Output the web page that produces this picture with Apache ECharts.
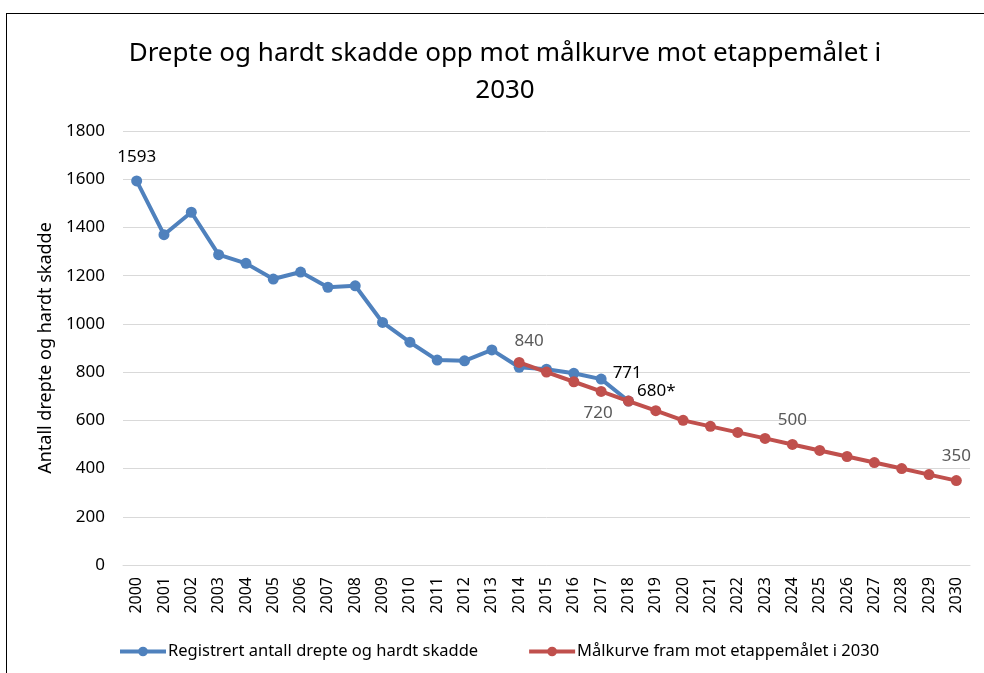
<!DOCTYPE html>
<html>
<head>
<meta charset="utf-8">
<script src="https://cdn.jsdelivr.net/npm/echarts@6/dist/echarts.min.js"></script>
<style>
  html, body { margin: 0; padding: 0; background: #fff; }
  #chart { width: 984px; height: 673px; position: relative; }
  #frame { position: absolute; left: 6px; top: 13px; width: 1000px; height: 700px;
           border-left: 1px solid #000; border-top: 1px solid #000; pointer-events: none; }
</style>
</head>
<body>
<div id="chart"></div>
<div id="frame"></div>
<script>
'use strict';
// aarstall langs x-aksen
var years = [];
for (var y = 2000; y <= 2030; y++) { years.push(String(y)); }

// registrerte tall 2000-2018
var registrert = [1593, 1370, 1463, 1287, 1251, 1186, 1215, 1152, 1158, 1006, 924, 850, 847, 892,
                  820, 812, 795, 771, 680];
// maalkurve 2014-2030
var maalkurve = [840, 800, 760, 720, 680, 640, 600, 575, 550, 525, 500, 475, 450, 425, 400, 375, 350];
var maalStart = 2014;

// etiketter som vises i figuren
var blueLabels = { 2000: '1593', 2017: '771', 2018: '680*' };
var redLabels = { 2014: '840', 2017: '720', 2024: '500', 2030: '350' };

var blueData = years.map(function (yr, i) {
    var v = i < registrert.length ? registrert[i] : null;
    var item = { value: v };
    if (blueLabels[yr]) {
        item.label = { show: true, formatter: blueLabels[yr], color: '#000',
                       position: yr === '2000' ? 'top' : 'right', distance: yr === '2000' ? 10 : 6 };
        if (yr === '2018') { item.label.offset = [-3, -10]; }
        if (yr === '2017') { item.label.offset = [0, -6]; }
    }
    return item;
});
var redData = years.map(function (yr) {
    var idx = Number(yr) - maalStart;
    var v = idx >= 0 ? maalkurve[idx] : null;
    var item = { value: v };
    if (redLabels[yr]) {
        item.label = { show: true, formatter: redLabels[yr], color: '#595959',
                       position: yr === '2017' ? 'bottom' : 'top', distance: 10 };
        if (yr === '2017') { item.label.offset = [-3, -2]; }
        if (yr === '2014') { item.label.offset = [10, 3]; }
    }
    return item;
});

var font = 'Noto Sans';
var myChart = echarts.init(document.getElementById('chart'));
var option = {
    animation: false,
    textStyle: { fontFamily: font },
    title: {
        text: 'Drepte og hardt skadde opp mot målkurve mot etappemålet i\n2030',
        left: 500,
        textAlign: 'center',
        top: 30,
        textStyle: { fontFamily: font, fontSize: 26, fontWeight: 'normal', color: '#000', lineHeight: 37 }
    },
    grid: { left: 123, right: 14, top: 131, bottom: 108 },
    legend: {
        left: 113,
        top: 638,
        itemWidth: 46,
        itemHeight: 12,
        itemGap: 49,
        lineStyle: { width: 4 },
        textStyle: { fontFamily: font, fontSize: 16.5, color: '#000', padding: [0, 0, 0, -3] },
        data: ['Registrert antall drepte og hardt skadde', 'Målkurve fram mot etappemålet i 2030']
    },
    xAxis: {
        type: 'category',
        data: years,
        boundaryGap: true,
        axisLine: { lineStyle: { color: '#d9d9d9', width: 1 } },
        axisTick: { show: false },
        axisLabel: { rotate: 90, color: '#000', fontSize: 16, margin: 12, interval: 0, fontFamily: font }
    },
    yAxis: {
        type: 'value',
        min: 0,
        max: 1800,
        interval: 200,
        name: 'Antall drepte og hardt skadde',
        nameLocation: 'middle',
        nameGap: 61,
        nameRotate: 90,
        nameTextStyle: { fontFamily: font, fontSize: 18, color: '#000' },
        axisLabel: { color: '#000', fontSize: 17, margin: 18, fontFamily: font,
                     formatter: function (v) { return String(v); } },
        splitLine: { lineStyle: { color: '#d9d9d9', width: 1 } }
    },
    series: [
        {
            name: 'Registrert antall drepte og hardt skadde',
            type: 'line',
            data: blueData,
            connectNulls: false,
            symbol: 'circle',
            symbolSize: 11,
            color: '#4f81bd',
            lineStyle: { width: 4, color: '#4f81bd' },
            itemStyle: { color: '#4f81bd' },
            label: { fontSize: 17, fontFamily: font },
            z: 2
        },
        {
            name: 'Målkurve fram mot etappemålet i 2030',
            type: 'line',
            data: redData,
            symbol: 'circle',
            symbolSize: 11,
            color: '#c0504d',
            lineStyle: { width: 4, color: '#c0504d' },
            itemStyle: { color: '#c0504d' },
            label: { fontSize: 17, fontFamily: font },
            z: 3
        }
    ]
};
myChart.setOption(option);
</script>
</body>
</html>
